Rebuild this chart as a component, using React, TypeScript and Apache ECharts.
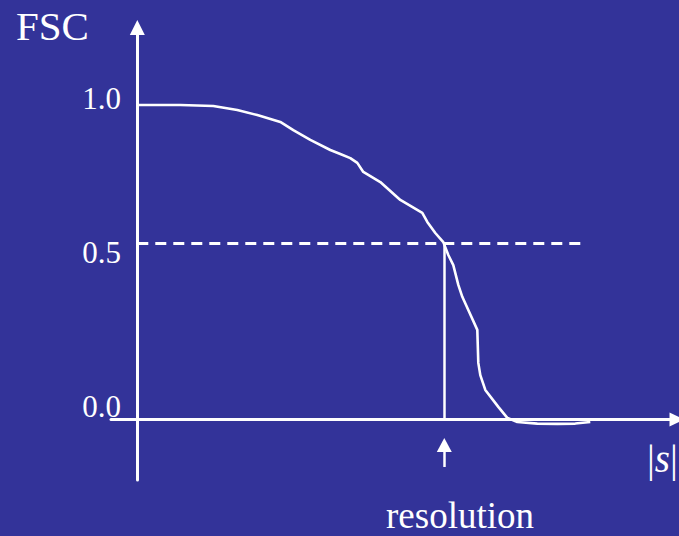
import React, { useEffect, useRef } from "react";
import * as echarts from "echarts";

// Spatial frequency |s| (arbitrary units) and FSC values
const CURVE_S = [
  0, 0.43, 0.76, 1.0, 1.2, 1.43, 1.56, 1.73, 1.93, 2.03, 2.13, 2.2, 2.26, 2.43,
  2.63, 2.85, 2.9, 2.98, 3.06, 3.11, 3.16, 3.21, 3.25, 3.31, 3.4, 3.41, 3.43,
  3.48, 3.61, 3.7, 3.8, 4.0, 4.2, 4.38, 4.53,
];
const CURVE_FSC = [
  1.0, 1.0, 0.997, 0.984, 0.968, 0.946, 0.92, 0.889, 0.857, 0.844, 0.831, 0.816,
  0.787, 0.755, 0.698, 0.657, 0.628, 0.593, 0.564, 0.523, 0.491, 0.428, 0.39,
  0.348, 0.285, 0.18, 0.141, 0.094, 0.04, 0.005, -0.008, -0.013, -0.014, -0.013,
  -0.008,
];
const Y_TICKS = [0, 0.5, 1.0];
const Y_TICK_LABELS = ["0.0", "0.5", "1.0"];
const THRESHOLD = 0.561;
const THRESHOLD_END = 4.48;
const RESOLUTION = 3.07;
const ARROW_FROM = -0.151;
const ARROW_TO = -0.081;

const X_MIN = -0.263;
const X_MAX = 5.397;
const Y_MIN = -0.1924;
const Y_MAX = 1.2464;

const SERIF = "'Liberation Serif', 'Times New Roman', serif";

export default function App() {
  const ref = useRef<HTMLDivElement>(null);
  useEffect(() => {
    if (!ref.current) return;
    const chart = echarts.init(ref.current, null, { renderer: "svg" });
    const richKeys = ["c", "b", "a"];
    chart.setOption({
      animation: false,
      backgroundColor: "#333399",
      grid: {
        left: 111,
        right: 2,
        top: 27.5,
        bottom: 56,
        containLabel: false,
        outerBoundsMode: "none",
      },
      xAxis: {
        type: "value",
        min: X_MIN,
        max: X_MAX,
        axisLine: {
          show: true,
          onZero: true,
          symbol: ["none", "triangle"],
          symbolSize: [14, 15],
          lineStyle: { color: "#ffffff", width: 3 },
        },
        axisTick: { show: false },
        axisLabel: { show: false },
        splitLine: { show: false },
      },
      yAxis: {
        type: "value",
        min: Y_MIN,
        max: Y_MAX,
        axisLine: {
          show: true,
          onZero: true,
          symbol: ["none", "triangle"],
          symbolSize: [15, 15],
          lineStyle: { color: "#ffffff", width: 3 },
        },
        axisTick: { show: false },
        splitLine: { show: false },
        axisLabel: {
          show: true,
          customValues: Y_TICKS,
          margin: -10,
          color: "#ffffff",
          fontFamily: SERIF,
          fontSize: 31,
          formatter: (v: number) => {
            const i = Y_TICKS.findIndex((t) => Math.abs(t - v) < 1e-6);
            if (i < 0) return "";
            return "{" + richKeys[i] + "|" + Y_TICK_LABELS[i] + "}";
          },
          rich: {
            a: { color: "#ffffff", fontFamily: SERIF, fontSize: 31, padding: [0, 0, 12, 0] },
            b: { color: "#ffffff", fontFamily: SERIF, fontSize: 31, padding: [0, 0, 20, 0] },
            c: { color: "#ffffff", fontFamily: SERIF, fontSize: 31, padding: [0, 0, 25, 0] },
          },
        },
      },
      series: [
        {
          type: "line",
          data: CURVE_S.map((s, i) => [s, CURVE_FSC[i]]),
          showSymbol: false,
          symbol: "none",
          smooth: false,
          silent: true,
          lineStyle: { color: "#ffffff", width: 2.6 },
          markLine: {
            silent: true,
            symbol: "none",
            label: { show: false },
            emphasis: { disabled: true },
            data: [
              [
                { coord: [0, THRESHOLD], lineStyle: { type: [11, 7], width: 3, color: "#ffffff" } },
                { coord: [THRESHOLD_END, THRESHOLD] },
              ],
              [
                { coord: [RESOLUTION, THRESHOLD], lineStyle: { type: "solid", width: 2.5, color: "#ffffff" } },
                { coord: [RESOLUTION, 0] },
              ],
              [
                {
                  coord: [RESOLUTION, ARROW_FROM],
                  symbol: "none",
                  lineStyle: { type: "solid", width: 2.5, color: "#ffffff" },
                },
                { coord: [RESOLUTION, ARROW_TO], symbol: "triangle", symbolSize: [15, 14] },
              ],
            ],
          },
        },
      ],
      graphic: [
        {
          type: "text",
          left: 16,
          y: 26,
          style: {
            text: "FSC",
            fill: "#ffffff",
            font: "41px " + SERIF,
            verticalAlign: "middle",
          },
        },
        {
          type: "text",
          x: 647,
          y: 458.5,
          style: {
            text: "|{i|s}|",
            fill: "#ffffff",
            font: "39px " + SERIF,
            verticalAlign: "middle",
            rich: {
              i: { fontStyle: "italic", fontFamily: SERIF, fontSize: 39, fill: "#ffffff" },
            },
          },
        },
        {
          type: "text",
          x: 460,
          y: 515.5,
          style: {
            text: "resolution",
            fill: "#ffffff",
            font: "37px " + SERIF,
            align: "center",
            verticalAlign: "middle",
          },
        },
      ],
    });
    return () => chart.dispose();
  }, []);
  return (
    <div
      ref={ref}
      style={{ position: "fixed", left: 0, top: 0, width: 679, height: 536 }}
    />
  );
}
